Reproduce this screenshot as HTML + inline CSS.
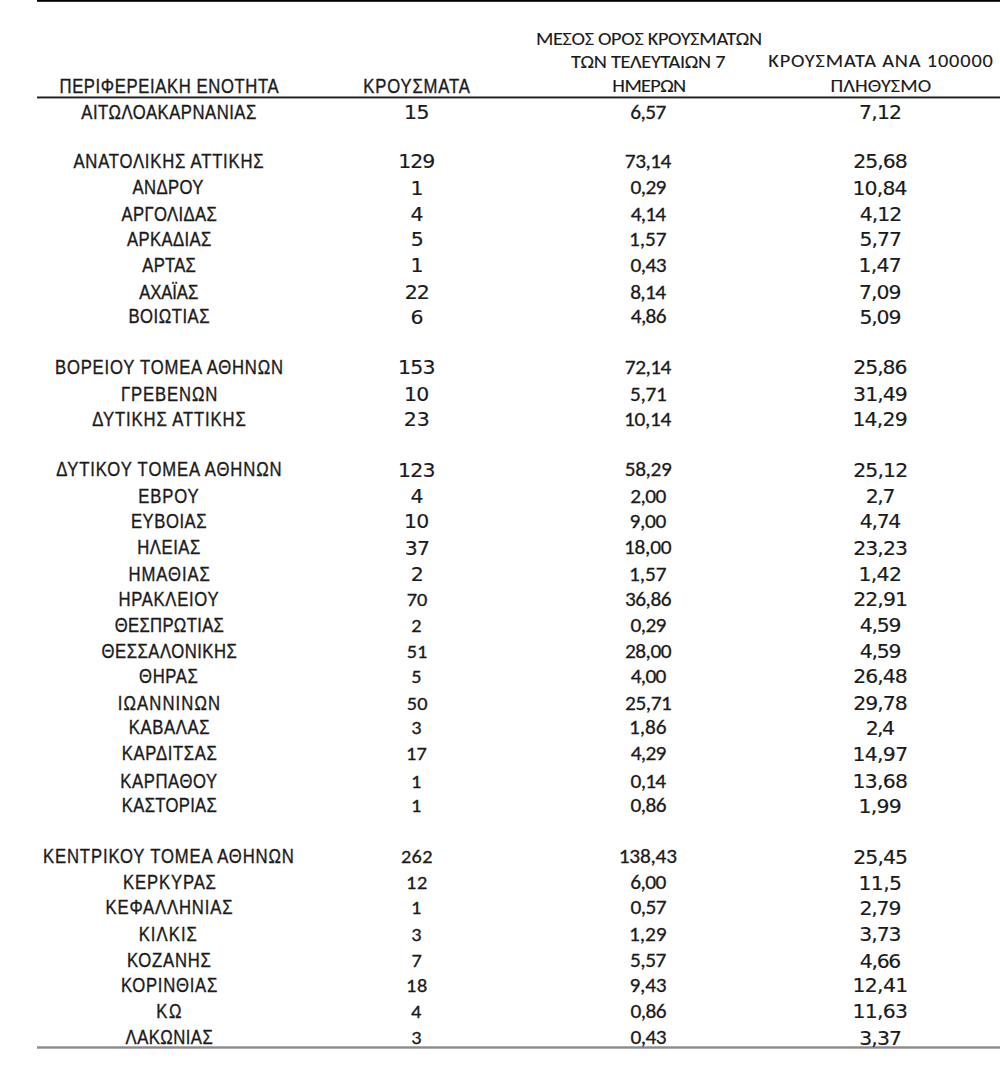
<!DOCTYPE html>
<html lang="el"><head><meta charset="utf-8"><title>Κρούσματα ανά περιφερειακή ενότητα</title>
<style>
html,body{margin:0;padding:0;background:#fff;}
body{width:1000px;height:1068px;overflow:hidden;}
svg{display:block;}
text{white-space:pre;}
.a{font-family:'Liberation Sans', Arial, sans-serif;stroke-width:0.35px;}
.c{font-family:Carlito, Calibri, 'Liberation Sans', sans-serif;stroke-width:0.25px;}
.d{font-family:'DejaVu Sans', Verdana, 'Liberation Sans', sans-serif;stroke-width:0.15px;}
.e{font-family:'DejaVu Sans', Verdana, 'Liberation Sans', sans-serif;stroke-width:0.15px;}
.h{font-family:Carlito, Calibri, 'Liberation Sans', sans-serif;stroke-width:0.10px;}
.f{font-family:Carlito, Calibri, 'Liberation Sans', sans-serif;stroke-width:0.30px;}
</style></head><body>
<svg width="1000" height="1068" viewBox="0 0 1000 1068">
<rect x="0" y="0" width="1000" height="1068" fill="#fff"/>
<rect x="37" y="0" width="963" height="1.8" fill="#000"/>
<rect x="37" y="96.5" width="963" height="1.9" fill="#1c1c1c"/>
<rect x="37" y="1046.3" width="963" height="2.4" fill="#8a8a8a"/>
<g fill="#1a1a1a" stroke="#1a1a1a">
<text class="a" transform="scale(0.860,1)" x="94.52" y="118.70" font-size="19.4" textLength="203.51" lengthAdjust="spacing">ΑΙΤΩΛΟΑΚΑΡΝΑΝΙΑΣ</text>
<text class="d" transform="scale(1.080,1)" x="374.02" y="119.00" font-size="19.0" textLength="23.73" lengthAdjust="spacing">15</text>
<text class="c" transform="scale(1.090,1)" x="578.12" y="118.70" font-size="19.6" textLength="33.20" lengthAdjust="spacing">6,57</text>
<text class="e" transform="scale(1.080,1)" x="795.46" y="119.00" font-size="18.9" textLength="39.79" lengthAdjust="spacing">7,12</text>
<text class="a" transform="scale(0.860,1)" x="85.43" y="167.85" font-size="19.4" textLength="220.99" lengthAdjust="spacing">ΑΝΑΤΟΛΙΚΗΣ ΑΤΤΙΚΗΣ</text>
<text class="d" transform="scale(1.080,1)" x="368.71" y="168.15" font-size="19.0" textLength="34.43" lengthAdjust="spacing">129</text>
<text class="c" transform="scale(1.090,1)" x="573.27" y="167.85" font-size="19.6" textLength="42.65" lengthAdjust="spacing">73,14</text>
<text class="e" transform="scale(1.080,1)" x="790.04" y="168.15" font-size="18.9" textLength="50.43" lengthAdjust="spacing">25,68</text>
<text class="a" transform="scale(0.860,1)" x="154.04" y="194.30" font-size="19.4" textLength="82.51" lengthAdjust="spacing">ΑΝΔΡΟΥ</text>
<text class="d" transform="scale(1.080,1)" x="380.16" y="194.60" font-size="19.0" textLength="12.09" lengthAdjust="spacing">1</text>
<text class="c" transform="scale(1.090,1)" x="578.53" y="194.30" font-size="19.6" textLength="32.88" lengthAdjust="spacing">0,29</text>
<text class="e" transform="scale(1.080,1)" x="789.25" y="194.60" font-size="18.9" textLength="51.07" lengthAdjust="spacing">10,84</text>
<text class="a" transform="scale(0.860,1)" x="141.38" y="221.20" font-size="19.4" textLength="110.79" lengthAdjust="spacing">ΑΡΓΟΛΙΔΑΣ</text>
<text class="d" transform="scale(1.080,1)" x="380.08" y="221.50" font-size="19.0" textLength="12.09" lengthAdjust="spacing">4</text>
<text class="c" transform="scale(1.090,1)" x="578.67" y="221.20" font-size="19.6" textLength="32.33" lengthAdjust="spacing">4,14</text>
<text class="e" transform="scale(1.080,1)" x="796.14" y="221.50" font-size="18.9" textLength="39.22" lengthAdjust="spacing">4,12</text>
<text class="a" transform="scale(0.860,1)" x="147.55" y="246.00" font-size="19.4" textLength="98.20" lengthAdjust="spacing">ΑΡΚΑΔΙΑΣ</text>
<text class="d" transform="scale(1.080,1)" x="380.38" y="246.30" font-size="19.0" textLength="12.09" lengthAdjust="spacing">5</text>
<text class="c" transform="scale(1.090,1)" x="577.07" y="246.00" font-size="19.6" textLength="34.51" lengthAdjust="spacing">1,57</text>
<text class="e" transform="scale(1.080,1)" x="795.74" y="246.30" font-size="18.9" textLength="39.34" lengthAdjust="spacing">5,77</text>
<text class="a" transform="scale(0.860,1)" x="165.53" y="271.75" font-size="19.4" textLength="62.20" lengthAdjust="spacing">ΑΡΤΑΣ</text>
<text class="d" transform="scale(1.080,1)" x="380.16" y="272.05" font-size="19.0" textLength="12.09" lengthAdjust="spacing">1</text>
<text class="c" transform="scale(1.090,1)" x="578.53" y="271.75" font-size="19.6" textLength="33.00" lengthAdjust="spacing">0,43</text>
<text class="e" transform="scale(1.080,1)" x="794.92" y="272.05" font-size="18.9" textLength="40.09" lengthAdjust="spacing">1,47</text>
<text class="a" transform="scale(0.860,1)" x="161.96" y="298.70" font-size="19.4" textLength="68.52" lengthAdjust="spacing">ΑΧΑΪΑΣ</text>
<text class="d" transform="scale(1.080,1)" x="374.76" y="299.00" font-size="19.0" textLength="23.26" lengthAdjust="spacing">22</text>
<text class="c" transform="scale(1.090,1)" x="578.10" y="298.70" font-size="19.6" textLength="32.98" lengthAdjust="spacing">8,14</text>
<text class="e" transform="scale(1.080,1)" x="795.46" y="299.00" font-size="18.9" textLength="39.23" lengthAdjust="spacing">7,09</text>
<text class="a" transform="scale(0.860,1)" x="149.35" y="323.25" font-size="19.4" textLength="94.34" lengthAdjust="spacing">ΒΟΙΩΤΙΑΣ</text>
<text class="d" transform="scale(1.080,1)" x="380.11" y="323.55" font-size="19.0" textLength="12.09" lengthAdjust="spacing">6</text>
<text class="c" transform="scale(1.090,1)" x="578.67" y="323.25" font-size="19.6" textLength="32.82" lengthAdjust="spacing">4,86</text>
<text class="e" transform="scale(1.080,1)" x="795.74" y="323.55" font-size="18.9" textLength="38.88" lengthAdjust="spacing">5,09</text>
<text class="a" transform="scale(0.860,1)" x="63.90" y="374.05" font-size="19.4" textLength="265.23" lengthAdjust="spacing">ΒΟΡΕΙΟΥ ΤΟΜΕΑ ΑΘΗΝΩΝ</text>
<text class="d" transform="scale(1.080,1)" x="368.42" y="374.35" font-size="19.0" textLength="34.85" lengthAdjust="spacing">153</text>
<text class="c" transform="scale(1.090,1)" x="573.27" y="374.05" font-size="19.6" textLength="42.65" lengthAdjust="spacing">72,14</text>
<text class="e" transform="scale(1.080,1)" x="790.04" y="374.35" font-size="18.9" textLength="50.30" lengthAdjust="spacing">25,86</text>
<text class="a" transform="scale(0.860,1)" x="140.64" y="401.05" font-size="19.4" textLength="112.01" lengthAdjust="spacing">ΓΡΕΒΕΝΩΝ</text>
<text class="d" transform="scale(1.080,1)" x="374.02" y="401.35" font-size="19.0" textLength="23.58" lengthAdjust="spacing">10</text>
<text class="c" transform="scale(1.090,1)" x="577.95" y="401.05" font-size="19.6" textLength="33.74" lengthAdjust="spacing">5,71</text>
<text class="e" transform="scale(1.080,1)" x="789.88" y="401.35" font-size="18.9" textLength="50.69" lengthAdjust="spacing">31,49</text>
<text class="a" transform="scale(0.860,1)" x="107.21" y="425.85" font-size="19.4" textLength="178.60" lengthAdjust="spacing">ΔΥΤΙΚΗΣ ΑΤΤΙΚΗΣ</text>
<text class="d" transform="scale(1.080,1)" x="373.97" y="426.15" font-size="19.0" textLength="24.11" lengthAdjust="spacing">23</text>
<text class="c" transform="scale(1.090,1)" x="572.51" y="425.85" font-size="19.6" textLength="43.34" lengthAdjust="spacing">10,14</text>
<text class="e" transform="scale(1.080,1)" x="789.25" y="426.15" font-size="18.9" textLength="51.23" lengthAdjust="spacing">14,29</text>
<text class="a" transform="scale(0.860,1)" x="65.50" y="476.40" font-size="19.4" textLength="261.98" lengthAdjust="spacing">ΔΥΤΙΚΟΥ ΤΟΜΕΑ ΑΘΗΝΩΝ</text>
<text class="d" transform="scale(1.080,1)" x="368.42" y="476.70" font-size="19.0" textLength="34.85" lengthAdjust="spacing">123</text>
<text class="c" transform="scale(1.090,1)" x="573.19" y="476.40" font-size="19.6" textLength="43.10" lengthAdjust="spacing">58,29</text>
<text class="e" transform="scale(1.080,1)" x="790.04" y="476.70" font-size="18.9" textLength="50.84" lengthAdjust="spacing">25,12</text>
<text class="a" transform="scale(0.860,1)" x="160.81" y="503.05" font-size="19.4" textLength="70.26" lengthAdjust="spacing">ΕΒΡΟΥ</text>
<text class="d" transform="scale(1.080,1)" x="380.08" y="503.35" font-size="19.0" textLength="12.09" lengthAdjust="spacing">4</text>
<text class="c" transform="scale(1.090,1)" x="578.14" y="503.05" font-size="19.6" textLength="33.18" lengthAdjust="spacing">2,00</text>
<text class="e" transform="scale(1.080,1)" x="801.52" y="503.35" font-size="18.9" textLength="27.62" lengthAdjust="spacing">2,7</text>
<text class="a" transform="scale(0.860,1)" x="152.23" y="528.05" font-size="19.4" textLength="87.94" lengthAdjust="spacing">ΕΥΒΟΙΑΣ</text>
<text class="d" transform="scale(1.080,1)" x="374.02" y="528.35" font-size="19.0" textLength="23.58" lengthAdjust="spacing">10</text>
<text class="c" transform="scale(1.090,1)" x="577.61" y="528.05" font-size="19.6" textLength="33.66" lengthAdjust="spacing">9,00</text>
<text class="e" transform="scale(1.080,1)" x="796.14" y="528.35" font-size="18.9" textLength="38.43" lengthAdjust="spacing">4,74</text>
<text class="a" transform="scale(0.860,1)" x="159.65" y="554.30" font-size="19.4" textLength="73.31" lengthAdjust="spacing">ΗΛΕΙΑΣ</text>
<text class="d" transform="scale(1.080,1)" x="374.72" y="554.60" font-size="19.0" textLength="23.60" lengthAdjust="spacing">37</text>
<text class="c" transform="scale(1.090,1)" x="572.51" y="554.30" font-size="19.6" textLength="43.55" lengthAdjust="spacing">18,00</text>
<text class="e" transform="scale(1.080,1)" x="790.04" y="554.60" font-size="18.9" textLength="50.64" lengthAdjust="spacing">23,23</text>
<text class="a" transform="scale(0.860,1)" x="149.35" y="580.65" font-size="19.4" textLength="94.71" lengthAdjust="spacing">ΗΜΑΘΙΑΣ</text>
<text class="d" transform="scale(1.080,1)" x="380.38" y="580.95" font-size="19.0" textLength="12.09" lengthAdjust="spacing">2</text>
<text class="c" transform="scale(1.090,1)" x="577.07" y="580.65" font-size="19.6" textLength="34.51" lengthAdjust="spacing">1,57</text>
<text class="e" transform="scale(1.080,1)" x="794.92" y="580.95" font-size="18.9" textLength="40.19" lengthAdjust="spacing">1,42</text>
<text class="a" transform="scale(0.860,1)" x="137.76" y="605.55" font-size="19.4" textLength="116.36" lengthAdjust="spacing">ΗΡΑΚΛΕΙΟΥ</text>
<text class="f" transform="scale(1.070,1)" x="380.20" y="605.55" font-size="19.0" textLength="19.14" lengthAdjust="spacing">70</text>
<text class="c" transform="scale(1.090,1)" x="573.33" y="605.55" font-size="19.6" textLength="42.77" lengthAdjust="spacing">36,86</text>
<text class="e" transform="scale(1.080,1)" x="790.04" y="605.85" font-size="18.9" textLength="50.63" lengthAdjust="spacing">22,91</text>
<text class="a" transform="scale(0.860,1)" x="133.30" y="631.80" font-size="19.4" textLength="127.06" lengthAdjust="spacing">ΘΕΣΠΡΩΤΙΑΣ</text>
<text class="f" transform="scale(1.070,1)" x="384.24" y="631.80" font-size="19.0" textLength="9.64" lengthAdjust="spacing">2</text>
<text class="c" transform="scale(1.090,1)" x="578.53" y="631.80" font-size="19.6" textLength="32.88" lengthAdjust="spacing">0,29</text>
<text class="e" transform="scale(1.080,1)" x="796.14" y="632.10" font-size="18.9" textLength="38.66" lengthAdjust="spacing">4,59</text>
<text class="a" transform="scale(0.860,1)" x="118.18" y="658.00" font-size="19.4" textLength="157.13" lengthAdjust="spacing">ΘΕΣΣΑΛΟΝΙΚΗΣ</text>
<text class="f" transform="scale(1.070,1)" x="380.04" y="658.00" font-size="19.0" textLength="19.31" lengthAdjust="spacing">51</text>
<text class="c" transform="scale(1.090,1)" x="573.43" y="658.00" font-size="19.6" textLength="42.66" lengthAdjust="spacing">28,00</text>
<text class="e" transform="scale(1.080,1)" x="796.14" y="658.30" font-size="18.9" textLength="38.66" lengthAdjust="spacing">4,59</text>
<text class="a" transform="scale(0.860,1)" x="161.71" y="682.90" font-size="19.4" textLength="68.35" lengthAdjust="spacing">ΘΗΡΑΣ</text>
<text class="f" transform="scale(1.070,1)" x="384.32" y="682.90" font-size="19.0" textLength="9.64" lengthAdjust="spacing">5</text>
<text class="c" transform="scale(1.090,1)" x="578.67" y="682.90" font-size="19.6" textLength="32.59" lengthAdjust="spacing">4,00</text>
<text class="e" transform="scale(1.080,1)" x="790.04" y="683.20" font-size="18.9" textLength="50.43" lengthAdjust="spacing">26,48</text>
<text class="a" transform="scale(0.860,1)" x="136.96" y="709.60" font-size="19.4" textLength="118.87" lengthAdjust="spacing">ΙΩΑΝΝΙΝΩΝ</text>
<text class="f" transform="scale(1.070,1)" x="380.04" y="709.60" font-size="19.0" textLength="19.45" lengthAdjust="spacing">50</text>
<text class="c" transform="scale(1.090,1)" x="573.43" y="709.60" font-size="19.6" textLength="42.97" lengthAdjust="spacing">25,71</text>
<text class="e" transform="scale(1.080,1)" x="790.04" y="709.90" font-size="18.9" textLength="50.43" lengthAdjust="spacing">29,78</text>
<text class="a" transform="scale(0.860,1)" x="149.85" y="734.40" font-size="19.4" textLength="93.71" lengthAdjust="spacing">ΚΑΒΑΛΑΣ</text>
<text class="f" transform="scale(1.070,1)" x="384.47" y="734.40" font-size="19.0" textLength="9.64" lengthAdjust="spacing">3</text>
<text class="c" transform="scale(1.090,1)" x="577.07" y="734.40" font-size="19.6" textLength="34.51" lengthAdjust="spacing">1,86</text>
<text class="e" transform="scale(1.080,1)" x="801.52" y="734.70" font-size="18.9" textLength="27.06" lengthAdjust="spacing">2,4</text>
<text class="a" transform="scale(0.860,1)" x="141.71" y="760.25" font-size="19.4" textLength="110.32" lengthAdjust="spacing">ΚΑΡΔΙΤΣΑΣ</text>
<text class="f" transform="scale(1.070,1)" x="379.43" y="760.25" font-size="19.0" textLength="19.50" lengthAdjust="spacing">17</text>
<text class="c" transform="scale(1.090,1)" x="578.67" y="760.25" font-size="19.6" textLength="32.70" lengthAdjust="spacing">4,29</text>
<text class="e" transform="scale(1.080,1)" x="789.25" y="760.55" font-size="18.9" textLength="51.61" lengthAdjust="spacing">14,97</text>
<text class="a" transform="scale(0.860,1)" x="139.92" y="787.60" font-size="19.4" textLength="112.62" lengthAdjust="spacing">ΚΑΡΠΑΘΟΥ</text>
<text class="f" transform="scale(1.070,1)" x="384.23" y="787.60" font-size="19.0" textLength="9.64" lengthAdjust="spacing">1</text>
<text class="c" transform="scale(1.090,1)" x="578.53" y="787.60" font-size="19.6" textLength="32.52" lengthAdjust="spacing">0,14</text>
<text class="e" transform="scale(1.080,1)" x="789.25" y="787.90" font-size="18.9" textLength="51.39" lengthAdjust="spacing">13,68</text>
<text class="a" transform="scale(0.860,1)" x="141.71" y="812.40" font-size="19.4" textLength="110.44" lengthAdjust="spacing">ΚΑΣΤΟΡΙΑΣ</text>
<text class="f" transform="scale(1.070,1)" x="384.23" y="812.40" font-size="19.0" textLength="9.64" lengthAdjust="spacing">1</text>
<text class="c" transform="scale(1.090,1)" x="578.53" y="812.40" font-size="19.6" textLength="33.00" lengthAdjust="spacing">0,86</text>
<text class="e" transform="scale(1.080,1)" x="794.92" y="812.70" font-size="18.9" textLength="39.95" lengthAdjust="spacing">1,99</text>
<text class="a" transform="scale(0.860,1)" x="49.94" y="863.25" font-size="19.4" textLength="291.82" lengthAdjust="spacing">ΚΕΝΤΡΙΚΟΥ ΤΟΜΕΑ ΑΘΗΝΩΝ</text>
<text class="f" transform="scale(1.070,1)" x="374.68" y="863.25" font-size="19.0" textLength="29.52" lengthAdjust="spacing">262</text>
<text class="c" transform="scale(1.090,1)" x="567.64" y="863.25" font-size="19.6" textLength="53.43" lengthAdjust="spacing">138,43</text>
<text class="e" transform="scale(1.080,1)" x="790.04" y="863.55" font-size="18.9" textLength="50.78" lengthAdjust="spacing">25,45</text>
<text class="a" transform="scale(0.860,1)" x="143.14" y="889.45" font-size="19.4" textLength="107.96" lengthAdjust="spacing">ΚΕΡΚΥΡΑΣ</text>
<text class="f" transform="scale(1.070,1)" x="379.43" y="889.45" font-size="19.0" textLength="19.82" lengthAdjust="spacing">12</text>
<text class="c" transform="scale(1.090,1)" x="578.12" y="889.45" font-size="19.6" textLength="33.20" lengthAdjust="spacing">6,00</text>
<text class="e" transform="scale(1.080,1)" x="794.92" y="889.75" font-size="18.9" textLength="40.23" lengthAdjust="spacing">11,5</text>
<text class="a" transform="scale(0.860,1)" x="122.65" y="914.25" font-size="19.4" textLength="147.67" lengthAdjust="spacing">ΚΕΦΑΛΛΗΝΙΑΣ</text>
<text class="f" transform="scale(1.070,1)" x="384.23" y="914.25" font-size="19.0" textLength="9.64" lengthAdjust="spacing">1</text>
<text class="c" transform="scale(1.090,1)" x="578.53" y="914.25" font-size="19.6" textLength="32.99" lengthAdjust="spacing">0,57</text>
<text class="e" transform="scale(1.080,1)" x="795.76" y="914.55" font-size="18.9" textLength="38.85" lengthAdjust="spacing">2,79</text>
<text class="a" transform="scale(0.860,1)" x="161.25" y="940.75" font-size="19.4" textLength="67.72" lengthAdjust="spacing">ΚΙΛΚΙΣ</text>
<text class="f" transform="scale(1.070,1)" x="384.47" y="940.75" font-size="19.0" textLength="9.64" lengthAdjust="spacing">3</text>
<text class="c" transform="scale(1.090,1)" x="577.07" y="940.75" font-size="19.6" textLength="34.42" lengthAdjust="spacing">1,29</text>
<text class="e" transform="scale(1.080,1)" x="795.63" y="941.05" font-size="18.9" textLength="39.19" lengthAdjust="spacing">3,73</text>
<text class="a" transform="scale(0.860,1)" x="147.62" y="967.25" font-size="19.4" textLength="97.55" lengthAdjust="spacing">ΚΟΖΑΝΗΣ</text>
<text class="f" transform="scale(1.070,1)" x="384.51" y="967.25" font-size="19.0" textLength="9.64" lengthAdjust="spacing">7</text>
<text class="c" transform="scale(1.090,1)" x="577.95" y="967.25" font-size="19.6" textLength="33.43" lengthAdjust="spacing">5,57</text>
<text class="e" transform="scale(1.080,1)" x="796.14" y="967.55" font-size="18.9" textLength="38.43" lengthAdjust="spacing">4,66</text>
<text class="a" transform="scale(0.860,1)" x="140.64" y="991.80" font-size="19.4" textLength="112.01" lengthAdjust="spacing">ΚΟΡΙΝΘΙΑΣ</text>
<text class="f" transform="scale(1.070,1)" x="379.43" y="991.80" font-size="19.0" textLength="19.95" lengthAdjust="spacing">18</text>
<text class="c" transform="scale(1.090,1)" x="577.61" y="991.80" font-size="19.6" textLength="33.89" lengthAdjust="spacing">9,43</text>
<text class="e" transform="scale(1.080,1)" x="789.25" y="992.10" font-size="18.9" textLength="51.70" lengthAdjust="spacing">12,41</text>
<text class="a" transform="scale(0.860,1)" x="181.74" y="1018.00" font-size="19.4" textLength="29.19" lengthAdjust="spacing">ΚΩ</text>
<text class="f" transform="scale(1.070,1)" x="384.06" y="1018.00" font-size="19.0" textLength="9.64" lengthAdjust="spacing">4</text>
<text class="c" transform="scale(1.090,1)" x="578.53" y="1018.00" font-size="19.6" textLength="33.00" lengthAdjust="spacing">0,86</text>
<text class="e" transform="scale(1.080,1)" x="789.25" y="1018.30" font-size="18.9" textLength="51.47" lengthAdjust="spacing">11,63</text>
<text class="a" transform="scale(0.860,1)" x="145.98" y="1044.50" font-size="19.4" textLength="101.37" lengthAdjust="spacing">ΛΑΚΩΝΙΑΣ</text>
<text class="f" transform="scale(1.070,1)" x="384.47" y="1044.50" font-size="19.0" textLength="9.64" lengthAdjust="spacing">3</text>
<text class="c" transform="scale(1.090,1)" x="578.53" y="1044.50" font-size="19.6" textLength="33.00" lengthAdjust="spacing">0,43</text>
<text class="e" transform="scale(1.080,1)" x="795.63" y="1044.80" font-size="18.9" textLength="39.49" lengthAdjust="spacing">3,37</text>
<text class="a" transform="scale(0.860,1)" x="69.16" y="92.80" font-size="19.4" textLength="254.81" lengthAdjust="spacing">ΠΕΡΙΦΕΡΕΙΑΚΗ ΕΝΟΤΗΤΑ</text>
<text class="a" transform="scale(0.860,1)" x="422.48" y="92.80" font-size="19.4" textLength="123.88" lengthAdjust="spacing">ΚΡΟΥΣΜΑΤΑ</text>
<text class="h" transform="scale(1.100,1)" x="487.21" y="45.30" font-size="18.5" textLength="205.63" lengthAdjust="spacing">ΜΕΣΟΣ ΟΡΟΣ ΚΡΟΥΣΜΑΤΩΝ</text>
<text class="h" transform="scale(1.100,1)" x="519.07" y="68.20" font-size="18.5" textLength="140.46" lengthAdjust="spacing">ΤΩΝ ΤΕΛΕΥΤΑΙΩΝ 7</text>
<text class="h" transform="scale(1.100,1)" x="556.70" y="92.30" font-size="18.5" textLength="67.10" lengthAdjust="spacing">ΗΜΕΡΩΝ</text>
<text class="h" transform="scale(1.100,1)" x="698.41" y="67.00" font-size="18.5" textLength="204.22" lengthAdjust="spacing">ΚΡΟΥΣΜΑΤΑ ΑΝΑ 100000</text>
<text class="h" transform="scale(1.100,1)" x="755.08" y="91.60" font-size="18.5" textLength="91.50" lengthAdjust="spacing">ΠΛΗΘΥΣΜΟ</text>
</g>
</svg>
</body></html>
